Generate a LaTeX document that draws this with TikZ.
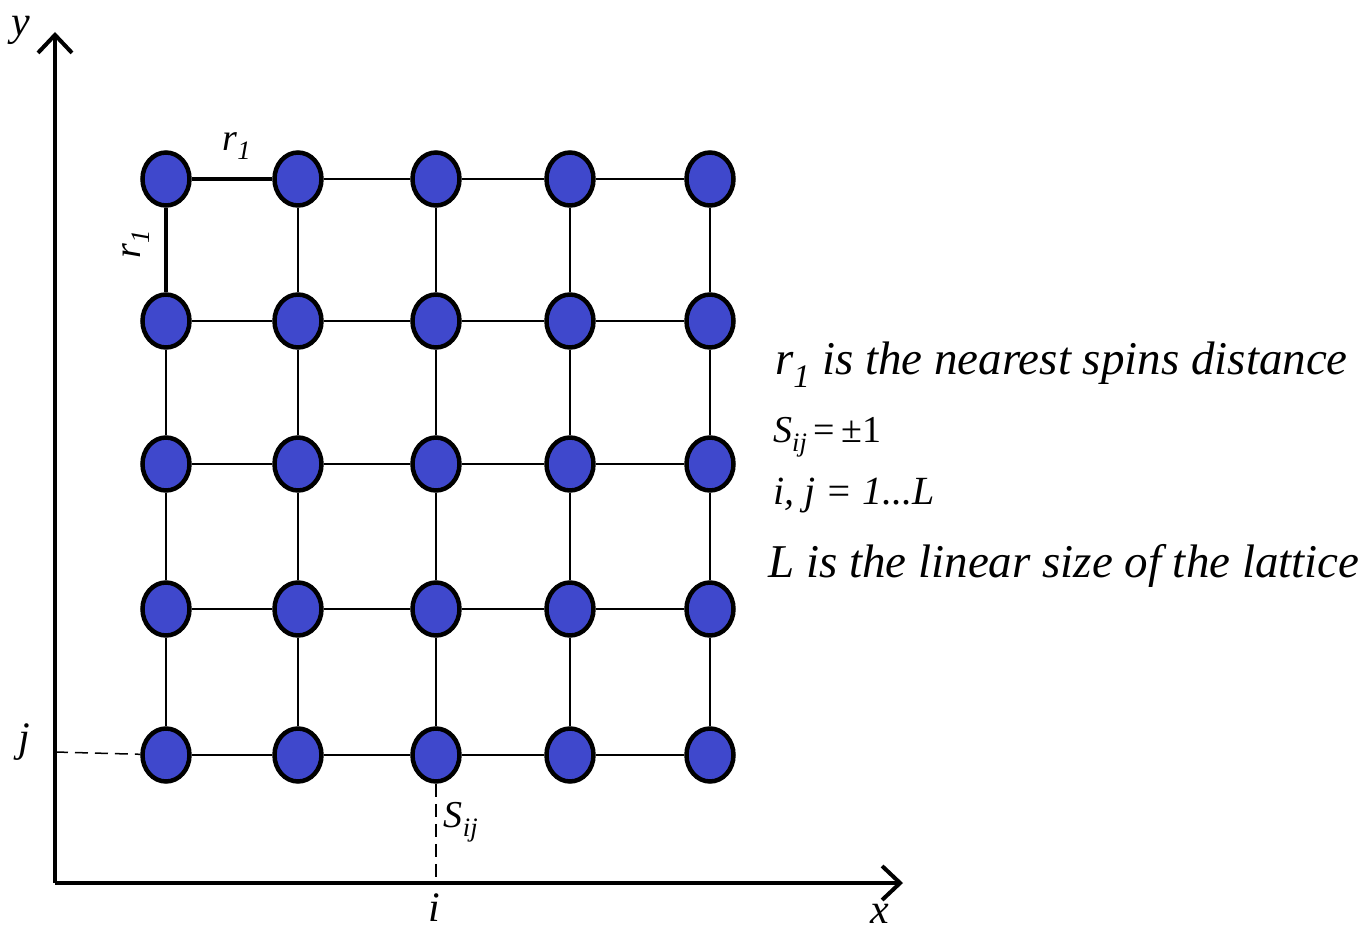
\documentclass[tikz,border=0pt]{standalone}
\usepackage{fontspec}
\setmainfont{Liberation Serif}
\usetikzlibrary{shapes.geometric,arrows.meta}
\definecolor{spinblue}{RGB}{63,72,204}
\tikzset{
  spin/.style={ellipse, draw=black, line width=4.5pt, fill=spinblue, minimum width=47pt, minimum height=53pt, inner sep=0pt},
  bond/.style={line width=1.6pt, black},
  thickbond/.style={line width=3.5pt, black},
  axis/.style={line width=4pt, black, -{Straight Barb[length=18pt,width=34pt,line width=4pt]}},
  guide/.style={line width=1.5pt, dash pattern=on 13pt off 7pt},
  lbl/.style={inner sep=0pt, font=\fontsize{42}{46}\selectfont\itshape},
  small/.style={inner sep=0pt, font=\fontsize{38}{42}\selectfont\itshape},
  info/.style={inner sep=0pt, anchor=base west},
}
\begin{document}
\begin{tikzpicture}[x=1pt,y=-1pt]
\useasboundingbox (0,0) rectangle (1363,931);
% axes
\coordinate (O) at (55,883);
\coordinate (ytip) at (55,32);
\coordinate (xtip) at (903,883);
\coordinate (jaxis) at (55,752);
\coordinate (iaxis) at (436,883);
\draw[axis] (O) -- (ytip);
\draw[axis] (O) -- (xtip);
% spins
\foreach \c/\x in {1/166,2/298,3/436,4/570,5/710}{
  \foreach \r/\y in {1/179,2/321,3/464,4/609,5/755}{
    \node[spin] (n-\c-\r) at (\x,\y) {};
  }
}
% bonds
\foreach \r in {1,...,5}{
  \foreach \c/\d in {1/2,2/3,3/4,4/5}{
    \draw[bond] (n-\c-\r) -- (n-\d-\r);
  }
}
\foreach \c in {1,...,5}{
  \foreach \r/\s in {1/2,2/3,3/4,4/5}{
    \draw[bond] (n-\c-\r) -- (n-\c-\s);
  }
}
\draw[thickbond] (n-1-1) -- (n-2-1);
\draw[thickbond] (n-1-1) -- (n-1-2);
% guides
\draw[guide] (jaxis) -- (n-1-5);
\draw[guide] (n-3-5) -- (iaxis);
% labels
\node[lbl] (ylab) at (21,30) {y};
\node[lbl] (xlab) at (880,914) {x};
\node[lbl] (ilab) at (434,908) {i};
\node[lbl] (jlab) at (24,742) {j};
\node[small] (slab) at (461,822) {S\textsubscript{ij}};
\node[small] (r1top) at (237,146) {r\textsubscript{1}};
\node[small, rotate=90] (r1left) at (136,244) {r\textsubscript{1}};
% info text
\node[info, font=\fontsize{47}{52}\selectfont\itshape] (t1) at (775,374) {r\textsubscript{1} is the nearest spins distance};
\node[info, font=\fontsize{38}{44}\selectfont] (t2) at (773,442) {\textit{S}\textsubscript{\textit{ij}}\,=\,±1};
\node[info, font=\fontsize{40}{46}\selectfont\itshape] (t3) at (773,504) {i, j = 1...L};
\node[info, font=\fontsize{47}{52}\selectfont\itshape] (t4) at (768,577) {L is the linear size of the lattice};
\end{tikzpicture}
\end{document}
